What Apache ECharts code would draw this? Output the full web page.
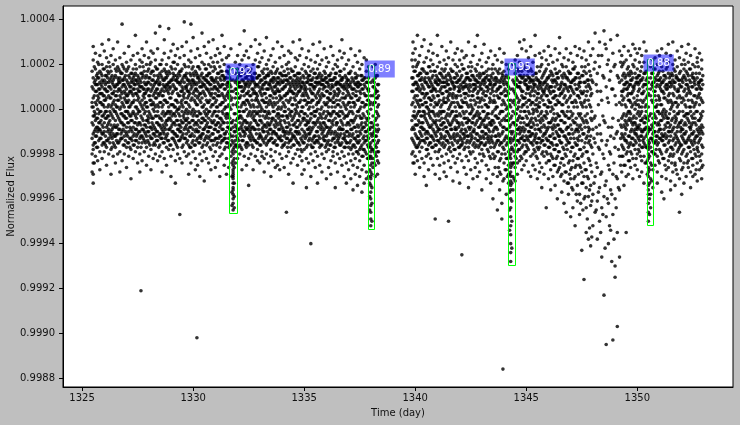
<!DOCTYPE html>
<html>
<head>
<meta charset="utf-8">
<script src="https://cdn.jsdelivr.net/npm/echarts@6/dist/echarts.min.js"></script>
<style>
  html, body { margin: 0; padding: 0; background: #bfbfbf; }
  #chart { width: 740px; height: 425px; }
</style>
</head>
<body>
<div id="chart"></div>
<script>
// flux stored as offset from 1.0 in units of 1e-5, each row = [time (day), offsets...]
const orbit1 = [
  [1325.5, 22,14,5,-3,-11,-18,-24,-29,-33,9,-7,1,28,-16],
  [1325.6, 18,8,-2,-9,13,-15,3,-21,25,-5,11,-12],
  [1325.7, 11,-4,16,-10,6,-17,21,0,-8,-23,4,14],
  [1325.8, -1,9,-13,17,3,-6,24,-19,12,-9,7,-27],
  [1325.9, 7,-11,15,-3,20,-16,2,10,-7,-22,13,29],
  [1326.0, 13,-6,4,-15,9,18,-2,-10,26,-19,1,6],
  [1326.1, -4,12,-14,5,19,-8,23,-1,8,-17,15,-25],
  [1326.2, 16,2,-9,10,-13,-3,21,6,-20,12,-6,31],
  [1326.3, 5,-12,14,-2,9,-18,17,1,-7,24,-10,-29],
  [1326.4, -8,11,3,-15,20,-4,7,13,-11,-21,27,0],
  [1326.5, 10,-5,15,-12,2,18,-8,6,-17,22,-1,-24],
  [1326.6, -3,8,-11,14,4,-7,19,-15,11,-20,1,30],
  [1326.7, 12,-9,6,17,-14,0,9,-5,23,-19,14,-28],
  [1326.8, 3,-13,16,-6,10,20,-2,-10,7,-23,13,38],
  [1326.9, -7,14,1,-16,8,-3,18,11,-12,25,-20,5],
  [1327.0, 9,-4,13,-11,3,17,-8,-17,21,6,-1,-26],
  [1327.1, 15,-10,4,-2,11,-15,19,7,-6,-21,28,1],
  [1327.2, -5,12,-13,8,2,16,-9,22,-18,10,-3,-31],
  [1327.3, 6,-8,14,-1,18,-12,3,9,-16,24,-22,12],
  [1327.4, 11,-3,-14,7,16,-9,1,20,-6,-19,13,33],
  [1327.5, -2,9,-11,15,4,-17,12,-7,25,0,-24,6],
  [1327.6, 13,-6,3,-13,19,8,-10,-1,22,-20,10,-28],
  [1327.7, 4,16,-9,10,-4,-15,21,1,-12,14,-23,27],
  [1327.8, -10,7,12,-2,17,-14,5,-7,24,-19,9,2],
  [1327.9, 8,-5,15,-12,1,20,-8,11,-17,3,-25,30],
  [1328.0, 14,-1,-10,6,18,-15,9,-4,23,-21,12,-6],
  [1328.1, -3,11,4,-13,16,-8,2,21,-18,8,-27,26],
  [1328.2, 10,-7,17,0,-11,13,-4,6,-16,25,-22,3],
  [1328.3, 5,-12,12,-3,19,-9,8,-16,22,1,-20,34],
  [1328.4, -6,15,2,-14,9,-1,18,-10,13,-23,27,7],
  [1328.5, 12,-4,7,-11,16,3,-16,20,-7,-21,11,37],
  [1328.6, 1,-9,14,-5,22,-13,9,-2,17,-19,6,-28],
  [1328.7, -8,10,4,18,-15,-3,13,-11,25,-22,8,31],
  [1328.8, 16,-2,9,-12,3,-7,20,11,-17,-25,14,-5],
  [1328.9, 7,-14,12,1,-9,17,-4,23,-18,10,-1,36],
  [1329.0, -1,13,-8,19,5,-16,10,-5,-21,26,2,-30],
  [1329.1, 11,-6,16,-13,2,8,-10,21,-2,-18,14,29],
  [1329.2, 4,-11,9,-3,18,-15,13,-7,24,1,-23,-33],
  [1329.3, -9,14,0,12,-5,-17,7,20,-12,27,-20,3],
  [1329.4, 15,-3,6,-10,17,-14,1,11,-7,-22,23,-47],
  [1329.5, 2,10,-12,18,-6,4,-17,13,-1,-24,28,8],
  [1329.6, -4,12,-9,7,20,-13,15,-2,-19,24,5,39],
  [1329.7, 9,-7,14,-15,3,16,-5,10,-11,-21,30,0],
  [1329.8, 13,-1,-10,6,19,-16,8,-6,22,-20,2,-29],
  [1329.9, -2,11,4,-12,15,-8,21,-17,9,-24,26,38],
  [1330.0, 7,-5,16,-14,0,12,-9,19,-3,-19,13,32],
  [1330.1, 12,-10,3,17,-6,-16,9,-1,23,-22,6,-27],
  [1330.2, -7,15,8,-3,-13,19,2,-10,14,-25,27,5],
  [1330.3, 4,-8,13,-15,10,-2,18,-12,7,-20,24,-30],
  [1330.4, 10,1,-11,16,-6,-17,12,5,-4,21,-23,34],
  [1330.5, -5,14,7,-9,2,-14,20,-1,11,-19,28,-32],
  [1330.6, 15,-3,-12,9,18,-7,4,-16,13,-22,25,0],
  [1330.7, 3,-10,12,-4,16,-13,8,20,-1,-24,30,-8],
  [1330.8, -8,11,1,-14,14,6,-5,19,-18,9,-27,23],
  [1330.9, 9,-2,17,-11,5,-6,13,-16,21,-21,2,31],
  [1331.0, 13,-7,3,-13,10,18,-1,-9,24,-19,7,-26],
  [1331.1, -3,16,-10,6,-15,12,1,21,-6,-23,27,9],
  [1331.2, 6,-12,14,-4,19,-8,10,-17,2,25,-21,-30],
  [1331.3, 11,-1,-9,15,3,-14,17,7,-5,-20,22,33],
  [1331.4, -6,9,13,-13,0,20,-11,5,-18,14,-25,28],
  [1331.5, 14,-4,6,-10,17,-15,11,-2,23,-22,1,-29],
  [1331.6, 2,12,-8,16,-13,8,-3,19,-17,24,-26,5],
  [1331.7, 8,-6,13,-12,4,18,-9,-16,10,-21,0,27],
  [1331.8, -8,-12,-15,-18,-20,-23,-25,-27,-29,-31,-33,-35,-38,-40,-42,-45,-5,2,8,13,-30,-36,-28],
  [1331.9, 5,-10,12,-2,-14,16,-7,21,-19,9,-24,-16],
  [1332.0, -4,14,-13,7,1,-9,18,-17,11,24,-22,3],
  [1332.1, 10,-3,15,-11,5,-16,12,-6,20,-20,-1,29],
  [1332.2, -7,8,2,-14,17,-4,10,13,-18,22,-27,-9],
  [1332.3, 12,-5,-12,6,16,-10,3,-1,24,-21,9,35],
  [1332.4, 4,-9,11,-15,14,0,-6,19,-17,7,-25,26],
  [1332.5, -2,13,8,-12,3,17,-8,-16,10,-22,23,-34],
  [1332.6, 15,-6,1,-11,18,-3,12,-14,6,-20,28,-9],
  [1332.7, 7,-13,14,-4,9,-17,20,2,-8,-27,13,-1],
  [1332.8, -5,10,-9,16,4,-14,11,-1,22,-21,7,31],
  [1332.9, 11,-2,6,-15,19,-7,1,14,-18,25,-23,4],
  [1333.0, 2,-11,15,-5,12,-12,8,-16,21,-3,-24,29],
  [1333.1, -9,13,4,-13,17,0,-6,10,-19,23,-21,6],
  [1333.2, 14,-1,-10,7,-15,18,11,-7,3,-22,26,-28],
  [1333.3, 5,-8,12,-3,20,-12,-16,9,15,-20,1,32],
  [1333.4, -4,15,-11,2,9,-14,16,-7,22,-24,11,-1],
  [1333.5, 10,-6,3,-13,17,-9,6,13,-18,24,-21,-30],
  [1333.6, -1,12,-15,8,-4,19,-10,1,14,-23,27,5],
  [1333.7, 13,-5,7,-11,2,16,-14,10,-8,-19,21,-26],
  [1333.8, 3,-12,14,-2,18,-7,9,-16,12,-25,30,0],
  [1333.9, -6,8,-9,16,4,-13,11,-3,23,-20,6,-27],
  [1334.0, 9,-3,15,-14,1,12,-8,19,-17,5,-22,28],
  [1334.1, -10,13,6,-5,17,-12,2,-16,10,24,-26,-1],
  [1334.2, 4,-8,11,-13,20,-3,15,-10,7,-21,-46,13],
  [1334.3, 12,0,-11,8,-15,16,-6,3,21,-19,-29,26],
  [1334.4, -3,14,5,-9,10,-14,18,-1,-17,25,-24,8],
  [1334.5, 7,-7,13,-12,2,17,-4,11,-16,-22,30,-33],
  [1334.6, 15,-2,-13,9,-6,4,19,-10,12,-20,0,23],
  [1334.7, -5,10,1,-15,14,-8,7,16,-18,22,-25,-11],
  [1334.8, 8,-11,16,-3,11,-16,3,-7,24,-21,13,31],
  [1334.9, 1,12,-9,6,-14,18,-1,10,-19,27,-23,-29],
  [1335.0, 11,-4,14,-10,4,-15,9,-2,20,-18,6,-27],
  [1335.1, -7,9,2,-12,16,-5,12,-17,7,23,-22,-35],
  [1335.2, 13,-9,5,-14,19,0,-6,15,-11,-24,26,3],
  [1335.3, 3,-2,11,-16,8,-10,17,-4,13,-20,22,-30],
  [1335.4, -6,14,-8,4,-13,10,1,-17,18,-23,29,7],
  [1335.5, 10,-12,16,-3,6,-15,12,-7,21,-19,-1,-26],
  [1335.6, 0,7,-10,14,-5,18,-14,3,11,-21,24,-33],
  [1335.7, 12,-6,4,-13,9,-2,16,-17,20,-25,6,30],
  [1335.8, -4,11,-11,15,1,-8,7,13,-16,22,-20,-28],
  [1335.9, 6,-9,13,-1,17,-14,3,-6,10,-22,27,-12],
  [1336.0, 14,-3,-12,8,2,-16,19,-8,12,-19,23,-31],
  [1336.1, -2,10,5,-14,15,-5,-10,11,-18,21,1,-26],
  [1336.2, 9,-8,16,-11,4,13,-3,-16,7,-23,28,-29],
  [1336.3, -5,13,-1,-13,10,18,-7,3,-19,24,-21,5],
  [1336.4, 11,-4,7,-15,16,-10,1,14,-17,-24,20,-35],
  [1336.5, 2,-11,12,-6,19,-14,9,-2,22,-20,-28,6],
  [1336.6, -8,15,4,-12,8,-3,17,-16,11,-22,26,-1],
  [1336.7, 13,-1,-9,10,-15,5,14,-6,-19,23,-25,31],
  [1336.8, 5,-13,11,-4,18,-11,2,-17,9,-21,25,-30],
  [1336.9, -3,9,-10,14,0,-15,12,-7,20,-24,6,-33],
  [1337.0, 10,-6,16,-12,3,7,-17,-2,13,-20,22,-27],
  [1337.1, -5,12,-14,5,17,-9,1,-18,10,-23,27,-31],
  [1337.2, 7,-2,13,-11,-16,9,-6,19,-20,3,-25,-36],
  [1337.3, 14,-8,2,-13,11,-4,16,-17,6,-22,24,-29],
  [1337.4, -1,10,-12,15,-7,4,-19,12,-15,21,-26,-34],
  [1337.5, 8,-10,5,-14,18,-3,11,-18,0,-23,26,-30],
  [1337.6, -6,13,-9,3,-16,9,15,-4,-21,20,-27,-37],
  [1337.7, 11,-3,-12,7,-18,14,1,-8,-15,23,-25,-33],
  [1337.8, 2,-7,12,-14,6,-20,17,-10,-4,22,-28,-31],
  [1337.9, -4,9,-13,4,-17,14,-9,8,-22,19,-2,-30],
  [1338.0, 12,6,0,-6,-11,-15,-19,-22,-25,-28,-31,-34,-37,-40,-43,-46,-49,-52,-17,-8,3,-30,-21],
  [1338.1, -3,10,-14,6,-18,13,-8,-22,2,-26,19,-11],
  [1338.2, 7,-9,14,-16,3,-12,9,-20,-5,-25,20,-30],
  [1338.3, -2,11,-10,5,-15,15,-7,-19,1,-23,8,-29]
];

// in-between readings of the first orbit, same units
const orbit1Mid = [
  [1325.45, 10,-6,3,-13,17,-20,-28,1],
  [1325.55, -3,12,-10,6,-15,19,-1,-24],
  [1325.65, 8,-12,15,-4,2,-8,11,-17],
  [1325.75, 14,-2,-9,5,-14,9,-6,20],
  [1325.85, -5,11,-13,3,16,-10,7,-1],
  [1325.95, 2,-8,12,-15,6,-3,18,-11],
  [1326.05, 9,-4,-12,15,-1,-16,4,11],
  [1326.15, -7,14,1,-10,8,-14,17,-3],
  [1326.25, 5,-11,10,-5,13,-15,-1,19],
  [1326.35, 12,-3,-13,7,2,-9,15,-17],
  [1326.45, -1,8,-7,14,-12,4,-16,10],
  [1326.55, 6,-14,11,-2,17,-8,1,-11],
  [1326.65, -9,13,4,-15,9,-4,12,18],
  [1326.75, 1,-6,16,-11,5,-13,8,-2],
  [1326.85, 11,-9,-3,13,-16,2,19,-7],
  [1326.95, -4,7,-14,10,-1,15,-10,4],
  [1327.05, 3,-12,12,-6,18,-15,6,-1],
  [1327.15, -8,10,1,-13,14,-3,-17,8],
  [1327.25, 13,-5,7,-10,3,-14,16,-2],
  [1327.35, -2,15,-11,4,-6,11,-16,9],
  [1327.45, 7,-9,13,-14,1,18,-4,-12],
  [1327.55, -6,11,-1,8,-15,5,14,-10],
  [1327.65, 10,-3,16,-12,-7,2,-17,12],
  [1327.75, 0,-13,9,-5,15,-9,6,19],
  [1327.85, 14,-7,3,-15,11,-1,-11,7],
  [1327.95, -5,12,-10,1,17,-14,9,-3],
  [1328.05, 6,-2,14,-12,4,-8,-16,20],
  [1328.15, -9,9,-4,13,-13,2,17,-6],
  [1328.25, 2,-11,11,-1,-15,7,15,-8],
  [1328.35, 12,-6,5,-14,9,-3,-10,18],
  [1328.45, -3,14,-12,6,1,-17,11,-7],
  [1328.55, 8,-8,15,-4,-13,3,20,-11],
  [1328.65, -7,11,2,-10,13,-15,6,-1],
  [1328.75, 4,-13,10,-6,17,-9,-2,14],
  [1328.85, 11,-1,-14,8,-5,15,-11,3],
  [1328.95, -4,9,-9,16,-16,5,12,-2],
  [1329.05, 7,-10,13,-3,2,-13,18,-7],
  [1329.15, -2,15,-6,10,-14,1,-11,21],
  [1329.25, 13,-5,4,-12,9,-16,15,-1],
  [1329.35, 0,-9,12,-7,16,-2,-14,6],
  [1329.45, -8,12,-13,3,8,-5,17,-10],
  [1329.55, 9,-3,14,-11,-16,6,1,-6],
  [1329.65, -5,10,-8,15,3,-13,19,-1],
  [1329.75, 5,-14,11,-4,-9,13,-2,8],
  [1329.85, 12,-6,1,-12,16,-8,7,-17],
  [1329.95, -1,13,-11,5,-15,10,-5,18],
  [1330.05, 8,-7,15,-2,4,-12,11,-16],
  [1330.15, -6,11,-14,9,-3,16,-9,2],
  [1330.25, 14,-1,6,-10,12,-15,-5,19],
  [1330.35, 3,-12,10,-6,-13,7,15,-2],
  [1330.45, -9,8,-4,14,1,-16,11,-11],
  [1330.55, 10,-5,13,-13,6,-2,18,-8],
  [1330.65, -2,15,-10,3,-15,9,-6,12],
  [1330.75, 7,-8,11,-1,16,-12,-17,4],
  [1330.85, 13,-3,-11,7,-6,2,14,-14],
  [1330.95, -5,10,5,-14,12,-9,-1,19],
  [1331.05, 4,-13,14,-3,9,-7,-16,1],
  [1331.15, 11,-6,-10,16,-1,6,-13,8],
  [1331.25, -7,13,2,-12,10,-4,17,-15],
  [1331.35, 6,-2,15,-9,-14,11,-6,3],
  [1331.45, -3,9,-13,4,14,-11,1,-17],
  [1331.55, 12,-8,7,-15,-2,17,-6,10],
  [1331.65, 1,-11,11,-4,-16,6,14,-9],
  [1331.75, -6,-14,-19,-24,-30,-37,-43,5],
  [1331.85, -10,-17,-22,-26,-33,-39,-2,-44],
  [1331.95, 9,-5,13,-12,2,-16,7,-8],
  [1332.05, -4,12,-9,16,-14,5,-1,10],
  [1332.15, 6,-12,10,-3,15,-8,-17,1],
  [1332.25, 13,-6,-1,-14,8,3,-10,18],
  [1332.35, -8,10,-11,14,2,-5,11,-16],
  [1332.45, 4,-3,15,-9,-15,12,-6,7],
  [1332.55, 11,-13,6,-1,17,-10,2,-7],
  [1332.65, -2,14,-8,9,-12,4,-16,13],
  [1332.75, 8,-5,12,-14,1,-9,16,-3],
  [1332.85, -6,11,-15,5,14,-2,7,-11],
  [1332.95, 15,-9,3,-7,10,-13,-1,19],
  [1333.05, -1,7,-12,13,-5,1,-16,9],
  [1333.15, 9,-14,11,-3,16,-8,4,-10],
  [1333.25, -7,12,-4,7,-13,14,-1,3],
  [1333.35, 3,-10,15,-6,-15,9,-2,18],
  [1333.45, 12,-2,-9,4,-14,11,-7,6],
  [1333.55, -5,13,-13,9,2,-4,16,-11],
  [1333.65, 7,-7,10,-15,-1,14,-10,3],
  [1333.75, -3,11,-11,5,17,-6,-16,8],
  [1333.85, 14,-4,1,-13,8,-9,12,-2],
  [1333.95, 0,-12,13,-7,16,-14,5,-5],
  [1334.05, -9,9,-3,12,-10,3,-16,15],
  [1334.15, 6,-6,15,-11,1,-15,10,-1],
  [1334.25, -4,13,-8,7,-13,18,-3,-17],
  [1334.35, 11,-10,4,-2,14,-7,-14,9],
  [1334.45, 2,-13,12,-5,8,-11,17,-1],
  [1334.55, -7,10,-12,15,-3,5,-16,7],
  [1334.65, 13,-1,6,-14,11,-8,2,-10],
  [1334.75, -2,8,-10,3,16,-15,12,-5],
  [1334.85, 9,-6,14,-13,-1,10,-18,4],
  [1334.95, -5,15,-4,7,-12,1,-15,12],
  [1335.05, 4,-11,10,-7,17,-2,-13,8],
  [1335.15, 12,-3,-9,14,3,-16,6,-6],
  [1335.25, -8,11,1,-13,9,-5,15,-11],
  [1335.35, 7,-14,13,-2,-9,4,-17,11],
  [1335.45, -1,9,-12,16,-6,10,-3,-15],
  [1335.55, 14,-6,5,-10,2,-14,12,-1],
  [1335.65, -4,12,-15,8,-8,15,-12,3],
  [1335.75, 5,-9,11,-3,14,-16,0,-7],
  [1335.85, 11,-2,-13,6,-6,13,-10,9],
  [1335.95, -7,14,2,-14,10,-4,-17,16],
  [1336.05, 3,-11,12,-8,-1,8,-15,5],
  [1336.15, 13,-5,7,-16,4,-9,15,-2],
  [1336.25, -2,10,-10,13,-14,1,-6,11],
  [1336.35, 8,-13,14,-1,6,-11,-17,3],
  [1336.45, -6,11,-7,16,-12,4,-2,12],
  [1336.55, 12,-3,2,-13,9,-15,7,-9],
  [1336.65, 1,-9,13,-5,-16,11,-11,17],
  [1336.75, -9,7,-13,10,-2,14,-7,3],
  [1336.85, 10,-12,5,-3,15,-14,1,-17],
  [1336.95, -3,13,-10,8,-6,2,-15,11],
  [1337.05, 6,-7,11,-15,3,-11,16,-1],
  [1337.15, 14,-1,-12,5,-17,9,-5,-9],
  [1337.25, -5,9,3,-13,12,-8,-16,1],
  [1337.35, 8,-10,14,-3,-14,6,-19,11],
  [1337.45, -1,12,-8,4,-15,10,-12,-20],
  [1337.55, 11,-4,-11,15,-7,1,-17,7],
  [1337.65, 3,-13,9,-2,-18,13,-8,-21],
  [1337.75, -6,10,-14,6,-10,2,-19,14],
  [1337.85, 9,-1,-12,12,-16,-5,4,-22],
  [1337.95, 2,-9,-16,-21,-27,-33,-39,-45],
  [1338.05, -6,-12,-18,-24,-29,-35,-42,-50],
  [1338.15, 10,-7,3,-14,-19,12,-10,-24],
  [1338.25, -4,8,-12,15,-1,-17,5,-21],
  [1338.35, 6,-9,11,-14,-3,-19,2,-24]
];

const orbit2 = [
  [1339.9, 14,3,-8,19,-14,8,-3,25,-19,11,-24,30],
  [1340.0, -4,12,-11,6,17,-16,1,22,-7,-21,27,-29],
  [1340.1, 9,-7,15,-13,3,20,-2,-17,11,-23,33,6],
  [1340.2, 16,-1,-10,8,-15,13,4,-6,24,-19,-26,1],
  [1340.3, -6,11,2,-12,18,-8,14,-17,7,-22,28,-3],
  [1340.4, 5,-9,13,-3,21,-14,9,-1,17,-24,-30,31],
  [1340.5, 12,-5,-13,7,1,16,-10,23,-18,3,-21,-34],
  [1340.6, -2,14,-7,10,-16,5,19,-11,-20,26,-27,0],
  [1340.7, 8,-12,4,17,-4,-15,12,-8,22,-22,2,29],
  [1340.8, -9,10,15,-1,-13,6,20,-17,9,-25,25,-5],
  [1340.9, 13,-3,-11,9,3,-16,17,-6,12,-19,-29,-49],
  [1341.0, 2,-8,14,-14,11,-2,19,-10,6,-22,24,33],
  [1341.1, -5,16,-9,4,-15,13,-1,8,-18,21,-25,-31],
  [1341.2, 10,-4,7,-12,18,-7,2,15,-16,-21,28,-1],
  [1341.3, -1,12,-13,5,-6,17,10,-17,-24,22,-28,3],
  [1341.4, 15,-10,3,-3,12,-14,8,-8,20,-20,26,-30],
  [1341.5, 4,-6,11,-15,16,0,-11,6,-18,23,-23,-50],
  [1341.6, -7,13,-2,9,-13,18,-9,14,-19,-26,2,30],
  [1341.7, 11,-1,-12,5,17,-16,7,-5,22,-21,-32,12],
  [1341.8, 1,-9,14,-8,10,-14,20,-3,-18,25,-24,6],
  [1341.9, -3,15,6,-11,3,-15,12,-6,19,-22,27,-28],
  [1342.0, 8,-12,13,-2,-17,17,-7,9,-20,22,1,-33],
  [1342.1, -6,10,-14,4,15,-9,1,20,-16,-23,26,-65],
  [1342.2, 12,-4,7,-13,18,-11,3,-18,10,-26,23,-2],
  [1342.3, 3,-10,16,-6,11,-15,-1,14,-21,24,-29,7],
  [1342.4, -8,14,-12,9,1,19,-5,-17,6,-23,30,-35],
  [1342.5, 10,-2,4,-14,17,-8,13,-11,21,-20,-27,2],
  [1342.6, -4,11,-10,6,-16,15,0,-6,-19,24,8,-31],
  [1342.7, 13,-7,9,-13,2,18,-3,-17,11,-22,28,-26],
  [1342.8, 5,-11,15,-5,12,-14,7,-1,20,-24,-30,33],
  [1342.9, -2,16,-8,3,-12,10,-16,14,-20,22,-4,-28],
  [1343.0, 9,-6,12,-15,5,19,-10,1,-18,25,-23,-36],
  [1343.1, -5,13,-1,8,-13,16,-7,-16,11,-21,29,4],
  [1343.2, 14,-3,6,-11,17,-15,2,-8,21,-25,-31,10],
  [1343.3, 1,-9,13,-4,9,-14,18,-12,-19,23,-27,-2],
  [1343.4, -7,11,4,-13,15,-6,-17,12,7,-22,26,-33],
  [1343.5, 10,-1,-10,16,-15,3,8,-5,20,-20,-29,-40],
  [1343.6, 3,-12,14,-3,11,-16,18,-8,-21,24,-26,0],
  [1343.7, -4,9,-9,13,1,-14,6,17,-19,22,-45,-30],
  [1343.8, 12,-6,5,-12,18,-2,-16,10,-23,27,-28,-36],
  [1343.9, -1,14,-11,7,-5,16,-15,2,-20,21,-49,-42],
  [1344.0, 8,-8,11,-14,3,17,-4,-18,13,-24,-31,25],
  [1344.1, -3,12,-12,6,-16,15,0,-9,-22,20,-27,-38],
  [1344.2, 10,-5,4,-13,14,-19,7,-25,-2,-29,18,-33],
  [1344.3, 4,-4,-10,-15,-20,-24,-28,-32,-36,-40,-44,-48,-52,-56,-60,-64,-68,-13,-7,1,-18,-26,-34,-30,-22,9],
  [1344.4, -6,9,-14,3,-18,13,-10,-24,-1,-30,20,-36],
  [1344.5, 11,-2,7,-12,16,-16,2,-7,-21,22,-26,-32],
  [1344.6, 0,13,-9,5,-14,18,-5,10,-19,24,-24,-29],
  [1344.7, -8,10,4,-11,15,-3,-15,12,-18,21,-23,30],
  [1344.8, 14,-4,8,-13,1,17,-9,-17,6,-22,27,-27],
  [1344.9, 5,-10,12,-6,19,-14,2,-1,15,-20,-25,31],
  [1345.0, -3,11,-12,7,-16,13,-7,20,-19,3,-23,26],
  [1345.1, 9,-7,14,-1,4,-14,17,-10,-18,23,-28,10],
  [1345.2, -5,13,2,-12,10,-8,18,-15,6,-21,28,-30],
  [1345.3, 12,-2,-11,15,-6,3,-16,9,21,-20,-25,0],
  [1345.4, 2,-12,8,-4,16,-13,11,-9,-19,24,-27,33],
  [1345.5, -7,10,-15,5,13,-1,19,-17,7,-22,-31,2],
  [1345.6, 11,-5,3,-13,17,-9,-17,12,1,-24,25,-28],
  [1345.7, -1,14,-8,9,-14,6,-4,20,-20,23,-26,-35],
  [1345.8, 7,-11,12,-3,2,-16,16,-7,-21,26,-29,8],
  [1345.9, 13,-4,-10,6,18,-13,-1,10,-19,22,-24,-44],
  [1346.0, -6,9,4,-14,14,-8,20,-17,1,-23,28,-31],
  [1346.1, 10,-1,-12,7,-15,17,3,-6,-20,24,-27,-36],
  [1346.2, 0,12,-9,15,-4,-16,8,-11,21,-22,-30,5],
  [1346.3, -8,6,13,-13,2,-5,18,-18,10,-25,27,-34],
  [1346.4, 14,-7,4,-11,11,-16,-2,16,-21,22,-28,-40],
  [1346.5, 3,-12,9,-3,17,-9,6,-19,-14,25,-26,32],
  [1346.6, -5,15,-15,7,-1,12,-10,20,-22,-29,2,-37],
  [1346.7, 11,-2,5,-12,16,-6,-18,9,-25,23,-32,-42],
  [1346.8, -3,10,-9,14,-16,3,19,-13,-21,27,-28,-46],
  [1346.9, 8,-8,13,-4,1,-15,17,-11,-24,22,-33,-38],
  [1347.0, -1,12,-13,6,-7,16,-19,10,-27,25,-31,-48],
  [1347.1, 13,-5,3,-11,18,-17,-2,8,-23,21,-36,-44],
  [1347.2, 4,-10,11,-15,14,-6,-20,19,-26,28,-30,-52],
  [1347.3, -7,9,1,-13,16,-9,6,-22,-16,24,-34,-41],
  [1347.4, 10,-3,-12,14,-18,5,-25,12,-8,27,-38,-47],
  [1347.5, -4,15,-9,7,-14,19,-21,2,-28,23,-33,-63],
  [1347.6, 8,-6,12,-17,3,-11,17,-24,-30,26,-40,-76],
  [1347.7, 1,-13,10,-5,16,-19,-27,6,-35,22,-44,-55],
  [1347.8, -8,13,-15,4,-22,11,-10,20,-31,30,-39,-58],
  [1347.9, 6,-4,15,-16,-25,9,-12,-34,24,-43,1,-61],
  [1348.0, 12,-20,-38,27,-9,-52],
  [1348.1, -3,21,-30,-15,34,-46],
  [1348.2, 8,-26,16,-41,-11,-58],
  [1348.3, -18,30,-7,-35,19,-50],
  [1348.4, 4,-28,24,-14,-44,-66],
  [1348.5, -22,14,-5,35,-39,-83],
  [1348.6, 10,-32,-16,27,-48,-105],
  [1348.7, -8,22,-25,-42,3,-60],
  [1348.8, 17,-12,-36,31,-54,-20],
  [1348.9, -4,25,-29,9,-47,-103],
  [1349.0, 6,-17,-40,20,-70,-75],
  [1349.1, -10,15,-31,33,-55,-97],
  [1349.2, 3,-21,12,-36,26,-66],
  [1349.3, 13,-4,8,-11,19,-16,2,-8,24,-21,-28,6],
  [1349.4, -2,11,-13,5,16,-7,21,-18,9,-25,28,-34],
  [1349.5, 9,-9,15,-3,-14,12,1,-6,22,-20,-55,-30],
  [1349.6, 16,-1,4,-12,10,-17,19,-5,7,-23,26,-29],
  [1349.7, -5,13,-10,7,-2,17,-15,11,-19,24,-26,3],
  [1349.8, 10,-7,2,14,-13,20,-4,-16,8,-22,29,-31],
  [1349.9, 3,-11,16,-6,11,-14,22,0,-18,27,-25,-9],
  [1350.0, -8,14,6,-2,-12,18,-9,12,-20,25,-27,4],
  [1350.1, 12,-3,-14,9,1,-16,15,-7,21,-19,-30,27],
  [1350.2, 1,-10,13,-5,19,-12,7,-1,-17,24,-23,-28],
  [1350.3, -6,16,-9,4,-15,11,21,-13,8,-21,30,-33],
  [1350.4, 11,-1,5,-12,17,-4,-17,13,-8,-24,26,2],
  [1350.5, 7,-5,-10,-14,-18,-22,-26,-30,-34,-38,-42,-46,-50,-16,-20,-28,-36,1,12,-8],
  [1350.6, 9,-13,14,-2,-17,6,-24,19,-9,-31,-44,-38],
  [1350.7, -4,12,-11,3,16,-8,-19,10,-14,22,-27,-35],
  [1350.8, 14,-6,8,-15,1,18,-10,-3,23,-20,-25,6],
  [1350.9, 2,-12,15,-7,11,-16,20,-1,-21,26,-28,-33],
  [1351.0, -7,10,-9,5,17,-13,4,13,-18,24,-24,-2],
  [1351.1, 12,-2,-14,8,-5,19,-11,2,-20,27,-30,-37],
  [1351.2, 5,-9,13,-4,15,-16,7,-12,22,-22,-40,0],
  [1351.3, -3,14,-13,9,-1,18,-8,11,-19,25,-27,-31],
  [1351.4, 10,-6,3,-10,16,-15,21,-4,6,-23,29,-26],
  [1351.5, 0,12,-12,15,-7,4,-17,10,-20,24,-32,-36],
  [1351.6, 15,-4,7,-14,-9,13,2,-18,20,-21,-28,30],
  [1351.7, -6,9,-11,17,3,-3,-16,12,-24,22,-25,-34],
  [1351.8, 8,-8,14,-2,-13,19,-10,5,-19,26,-29,1],
  [1351.9, -1,11,-15,6,16,-6,-17,13,-22,23,-46,-31],
  [1352.0, 13,-5,3,-12,10,-9,20,-16,-20,28,-27,-38],
  [1352.1, 4,-11,15,-3,-14,8,-7,18,-18,22,-24,-33],
  [1352.2, -7,13,-10,6,17,-15,1,11,-21,25,-30,-2],
  [1352.3, 10,-2,-13,9,-5,15,-17,4,21,-23,-26,29],
  [1352.4, 1,-9,12,-14,18,-8,7,-1,-19,24,-28,-35],
  [1352.5, -4,14,-11,3,10,-16,16,-6,-22,20,-25,-30],
  [1352.6, 11,-6,6,-13,19,-4,-15,13,-20,27,-29,2],
  [1352.7, 5,-12,14,-1,-9,9,-17,21,-18,23,-24,-32],
  [1352.8, -8,10,-14,7,16,-5,2,-11,-21,25,-27,12],
  [1352.9, 9,-3,13,-10,-16,4,18,-7,-20,22,-26,-31]
];

// in-between readings of the second orbit, same units
const orbit2Mid = [
  [1339.85, 8,-5,14,-13,2,-20,22,-9],
  [1339.95, -3,11,-9,17,-15,5,-1,-24],
  [1340.05, 12,-7,4,-12,19,-3,9,-17],
  [1340.15, 2,-13,15,-5,10,-16,-1,21],
  [1340.25, -8,9,-3,13,-11,4,16,-14],
  [1340.35, 10,-1,-14,7,-6,18,-9,2],
  [1340.45, -4,14,-11,3,12,-15,6,-2],
  [1340.55, 7,-10,16,-6,-13,1,11,-18],
  [1340.65, 13,-3,-8,10,-15,5,19,-1],
  [1340.75, -1,11,-12,4,14,-7,-17,8],
  [1340.85, 5,-14,9,-2,17,-10,1,-6],
  [1340.95, -7,12,-5,15,-12,8,-16,2],
  [1341.05, 11,-9,6,-14,3,-3,13,-19],
  [1341.15, -2,16,-13,9,-7,1,-11,12],
  [1341.25, 7,-6,12,-1,-15,14,-9,4],
  [1341.35, 14,-12,3,-8,10,-16,-4,18],
  [1341.45, -5,8,-10,13,-2,5,-14,11],
  [1341.55, 9,-3,15,-12,1,-17,7,-7],
  [1341.65, -6,12,-15,6,-9,17,-1,3],
  [1341.75, 3,-11,10,-4,14,-13,-18,9],
  [1341.85, 12,-5,-9,16,-1,5,-12,-3],
  [1341.95, -8,10,2,-14,8,-6,13,-17],
  [1342.05, 6,-13,14,-3,-10,11,-16,1],
  [1342.15, -1,9,-7,12,-15,3,18,-11],
  [1342.25, 13,-4,5,-12,10,-9,-17,7],
  [1342.35, -4,14,-12,2,16,-6,-14,10],
  [1342.45, 8,-9,11,-15,-2,13,-5,-19],
  [1342.55, 1,-12,15,-6,6,-13,19,-1],
  [1342.65, -9,11,-3,9,-15,4,-10,14],
  [1342.75, 10,-2,13,-11,-6,17,-16,3],
  [1342.85, -3,8,-14,5,12,-8,1,-17],
  [1342.95, 15,-7,4,-13,9,-4,-15,11],
  [1343.05, -5,13,-10,7,-1,16,-12,-20],
  [1343.15, 6,-11,12,-4,-16,2,14,-8],
  [1343.25, -2,10,-13,15,-7,8,-18,1],
  [1343.35, 11,-6,5,-15,13,-10,3,-21],
  [1343.45, -7,14,-2,9,-12,18,-14,-5],
  [1343.55, 4,-9,11,-6,-17,6,13,-22],
  [1343.65, 12,-3,-12,14,-8,1,-15,8],
  [1343.75, -4,9,-14,5,16,-11,-19,-26],
  [1343.85, 7,-7,13,-1,-15,10,-22,-29],
  [1343.95, -1,12,-10,4,-17,15,-8,-32],
  [1344.05, 9,-13,6,-5,14,-20,2,-27],
  [1344.15, -5,11,-15,8,-9,-22,1,-30],
  [1344.25, 2,-8,-14,-21,-29,-37,-45,-54],
  [1344.35, -3,-11,-17,-25,-33,-41,-50,-62],
  [1344.45, 8,-6,12,-13,-19,4,-24,-31],
  [1344.55, -2,14,-11,6,-16,11,-7,-22],
  [1344.65, 10,-4,3,-14,17,-9,-18,1],
  [1344.75, -6,12,-10,9,-1,15,-13,-21],
  [1344.85, 5,-12,14,-4,8,-16,2,-8],
  [1344.95, 13,-1,-9,11,-14,5,18,-19],
  [1345.05, -4,9,-13,15,-7,1,-17,10],
  [1345.15, 7,-10,12,-2,-12,14,-6,4],
  [1345.25, -8,13,-4,8,-15,3,17,-11],
  [1345.35, 11,-7,6,-14,10,-1,-18,13],
  [1345.45, 0,14,-11,4,-5,16,-15,-21],
  [1345.55, 9,-3,13,-9,-13,7,1,-18],
  [1345.65, -6,10,-15,12,-2,19,-10,5],
  [1345.75, 4,-12,8,-5,15,-14,-19,11],
  [1345.85, 12,-8,2,-11,9,-3,-16,17],
  [1345.95, -2,11,-14,6,-9,14,-20,1],
  [1346.05, 8,-6,15,-12,3,-17,10,-23],
  [1346.15, -5,13,-8,10,-15,1,-21,16],
  [1346.25, 13,-2,5,-13,-18,8,-7,-25],
  [1346.35, 2,-10,12,-4,16,-16,-22,6],
  [1346.45, -7,9,-12,14,-3,3,-19,-27],
  [1346.55, 10,-5,7,-15,11,-9,-24,-30],
  [1346.65, -1,14,-10,2,-17,8,-22,19],
  [1346.75, 6,-12,11,-6,15,-20,-28,-3],
  [1346.85, 14,-8,-14,4,-1,-18,9,-33],
  [1346.95, -4,10,-11,16,-23,5,-15,-29],
  [1347.05, 9,-3,3,-17,12,-9,-26,-35],
  [1347.15, -6,13,-13,7,-21,1,-31,18],
  [1347.25, 3,-9,14,-4,-16,9,-25,-38],
  [1347.35, 11,-14,6,-10,-22,16,-29,-2],
  [1347.45, -2,8,-18,12,-7,-26,3,-42],
  [1347.55, 7,-11,15,-5,-20,-33,1,-45],
  [1347.65, -8,12,-3,-15,4,-27,19,-39],
  [1347.75, 13,-6,-19,8,-12,-30,-2,-49],
  [1347.85, 2,-14,10,-23,-9,-36,17,-53],
  [1347.95, -5,7,-17,13,-28,-1,-41,-57],
  [1348.05, 18,-13,-33,-4],
  [1348.15, -8,11,-24,-45],
  [1348.25, 24,-17,2,-37],
  [1348.35, -11,8,-29,-55],
  [1348.45, 15,-20,-3,-47],
  [1348.55, -6,29,-34,-62],
  [1348.65, 5,-14,-40,20],
  [1348.75, -19,13,-27,-52],
  [1348.85, 9,-8,-38,-68],
  [1348.95, -13,19,-24,-58],
  [1349.05, 2,-30,-11,-44],
  [1349.15, 14,-18,-5,-35],
  [1349.25, -7,21,-25,-13],
  [1349.35, 8,-12,15,-3,-17,4,20,-21],
  [1349.45, -5,11,-8,14,-14,2,-11,-25],
  [1349.55, 12,-2,6,-15,9,-7,18,-19],
  [1349.65, -1,15,-12,4,-4,11,-16,-23],
  [1349.75, 7,-9,13,-6,16,-13,1,-20],
  [1349.85, -6,10,-3,9,-16,19,-10,5],
  [1349.95, 14,-7,2,-11,12,-4,-15,-22],
  [1350.05, 2,-13,11,-1,-8,15,-18,8],
  [1350.15, -9,13,-5,17,-12,4,-2,-21],
  [1350.25, 10,-4,7,-14,3,-10,14,-17],
  [1350.35, -3,16,-9,11,-16,1,-6,-24],
  [1350.45, 6,-11,-17,9,-23,-4,14,-29],
  [1350.55, -3,-9,-15,-21,-27,-33,-40,-47],
  [1350.65, 11,-7,-13,4,-19,-25,16,-32],
  [1350.75, -6,12,-2,8,-15,-10,18,-20],
  [1350.85, 4,-14,10,-4,13,-12,-18,1],
  [1350.95, 13,-1,-10,6,-6,16,-15,-23],
  [1351.05, -5,9,-13,14,2,-9,-19,11],
  [1351.15, 8,-12,12,-3,17,-14,-1,-22],
  [1351.25, -2,15,-7,5,-16,10,-11,-25],
  [1351.35, 11,-4,4,-12,9,-6,19,-18],
  [1351.45, -8,12,-14,7,-2,14,-10,-21],
  [1351.55, 3,-10,16,-5,11,-17,1,-24],
  [1351.65, 12,-1,-8,10,-13,6,-20,18],
  [1351.75, -4,14,-12,3,-5,15,-15,-27],
  [1351.85, 9,-7,8,-14,13,-2,-18,2],
  [1351.95, -6,10,-10,17,-16,5,-23,-8],
  [1352.05, 5,-13,12,-1,-9,14,-19,-26],
  [1352.15, 14,-3,2,-11,9,-15,-6,20],
  [1352.25, -2,11,-14,7,-4,16,-20,-24],
  [1352.35, 8,-8,13,-6,1,-12,18,-17],
  [1352.45, -7,15,-3,10,-15,4,-22,-11],
  [1352.55, 12,-10,6,-2,14,-14,-18,1],
  [1352.65, -1,9,-12,16,-7,3,-21,-27],
  [1352.75, 6,-5,11,-15,12,-10,-19,19],
  [1352.85, -9,13,-4,5,-13,9,-23,-2],
  [1352.95, 3,-11,15,-8,-17,11,-1,-25]
];

// isolated low points: [time, offset in 1e-5]
const outliers = [[1327.65, -81], [1330.17, -102], [1335.3, -60], [1343.95, -116]];

// candidate transit windows
const transitStart = [1331.62, 1337.88, 1344.19, 1350.45];
const transitEnd = [1331.98, 1338.15, 1344.48, 1350.72];
const transitTop = [1.000185, 1.000198, 1.000208, 1.000223];
const transitBottom = [0.999536, 0.999466, 0.999306, 0.999484];
const transitLabel = ['0.92', '0.89', '0.95', '0.88'];

const xTicks = [1325, 1330, 1335, 1340, 1345, 1350];
const yTicks = [0.9988, 0.9990, 0.9992, 0.9994, 0.9996, 0.9998, 1.0000, 1.0002, 1.0004];

let points = [];
[orbit1, orbit1Mid, orbit2, orbit2Mid].forEach(function (rows) {
  rows.forEach(function (row) {
    for (let i = 1; i < row.length; i++) {
      points.push([row[0], 1 + row[i] * 1e-5]);
    }
  });
});
outliers.forEach(function (o) {
  points.push([o[0], 1 + o[1] * 1e-5]);
});

let boxes = [];
for (let i = 0; i < transitLabel.length; i++) {
  boxes.push([transitStart[i], transitEnd[i], transitTop[i], transitBottom[i]]);
}

let chart = echarts.init(document.getElementById('chart'));
let font = '"DejaVu Sans", sans-serif';

let option = {
  backgroundColor: '#bfbfbf',
  animation: false,
  grid: {
    left: 63, right: 7, top: 6, bottom: 38,
    containLabel: false,
    outerBoundsMode: 'none',
    show: true, backgroundColor: '#ffffff', borderColor: '#000000', borderWidth: 1
  },
  xAxis: {
    type: 'value',
    min: 1324.14,
    max: 1354.31,
    name: 'Time (day)',
    nameLocation: 'middle',
    nameGap: 21,
    nameMoveOverlap: false,
    nameTextStyle: { color: '#111', fontSize: 10, fontFamily: font },
    axisLine: { show: true, onZero: false, lineStyle: { color: '#000' } },
    axisTick: { show: true, length: 4, customValues: xTicks, lineStyle: { color: '#000' } },
    axisLabel: {
      customValues: xTicks, color: '#111', fontSize: 10, fontFamily: font, margin: 6,
      formatter: function (v) { return String(v); }
    },
    splitLine: { show: false }
  },
  yAxis: {
    type: 'value',
    min: 0.99876,
    max: 1.000461,
    name: 'Normalized Flux',
    nameLocation: 'middle',
    nameGap: 47,
    nameMoveOverlap: false,
    nameTextStyle: { color: '#111', fontSize: 10, fontFamily: font },
    axisLine: { show: true, onZero: false, lineStyle: { color: '#000' } },
    axisTick: { show: true, length: 4, customValues: yTicks, lineStyle: { color: '#000' } },
    axisLabel: {
      customValues: yTicks, color: '#111', fontSize: 10, fontFamily: font, margin: 8,
      formatter: function (v) { return v.toFixed(4); }
    },
    splitLine: { show: false }
  },
  series: [
    {
      type: 'scatter',
      data: points,
      symbol: 'circle',
      symbolSize: 3.6,
      itemStyle: { color: '#000' },
      silent: true
    },
    {
      type: 'custom',
      data: boxes,
      z: 5,
      silent: true,
      renderItem: function (params, api) {
        let p0 = api.coord([api.value(0), api.value(2)]);
        let p1 = api.coord([api.value(1), api.value(3)]);
        let x0 = Math.round(p0[0]) + 0.5;
        let y0 = Math.round(p0[1]) + 0.5;
        let x1 = Math.round(p1[0]) + 0.5;
        let y1 = Math.round(p1[1]) + 0.5;
        return {
          type: 'group',
          children: [
            {
              type: 'rect',
              shape: { x: x0, y: y0, width: x1 - x0, height: y1 - y0 },
              style: { fill: 'none', stroke: '#00ff00', lineWidth: 1 }
            },
            {
              type: 'text',
              x: x0 - 4,
              y: y0 - 5,
              style: {
                text: transitLabel[params.dataIndex],
                fill: '#ffffff',
                font: '10px ' + font,
                backgroundColor: 'rgba(0,0,255,0.5)',
                padding: [4, 4, 3, 4],
                verticalAlign: 'top',
                align: 'left'
              }
            }
          ]
        };
      }
    }
  ]
};

chart.setOption(option);
</script>
</body>
</html>
